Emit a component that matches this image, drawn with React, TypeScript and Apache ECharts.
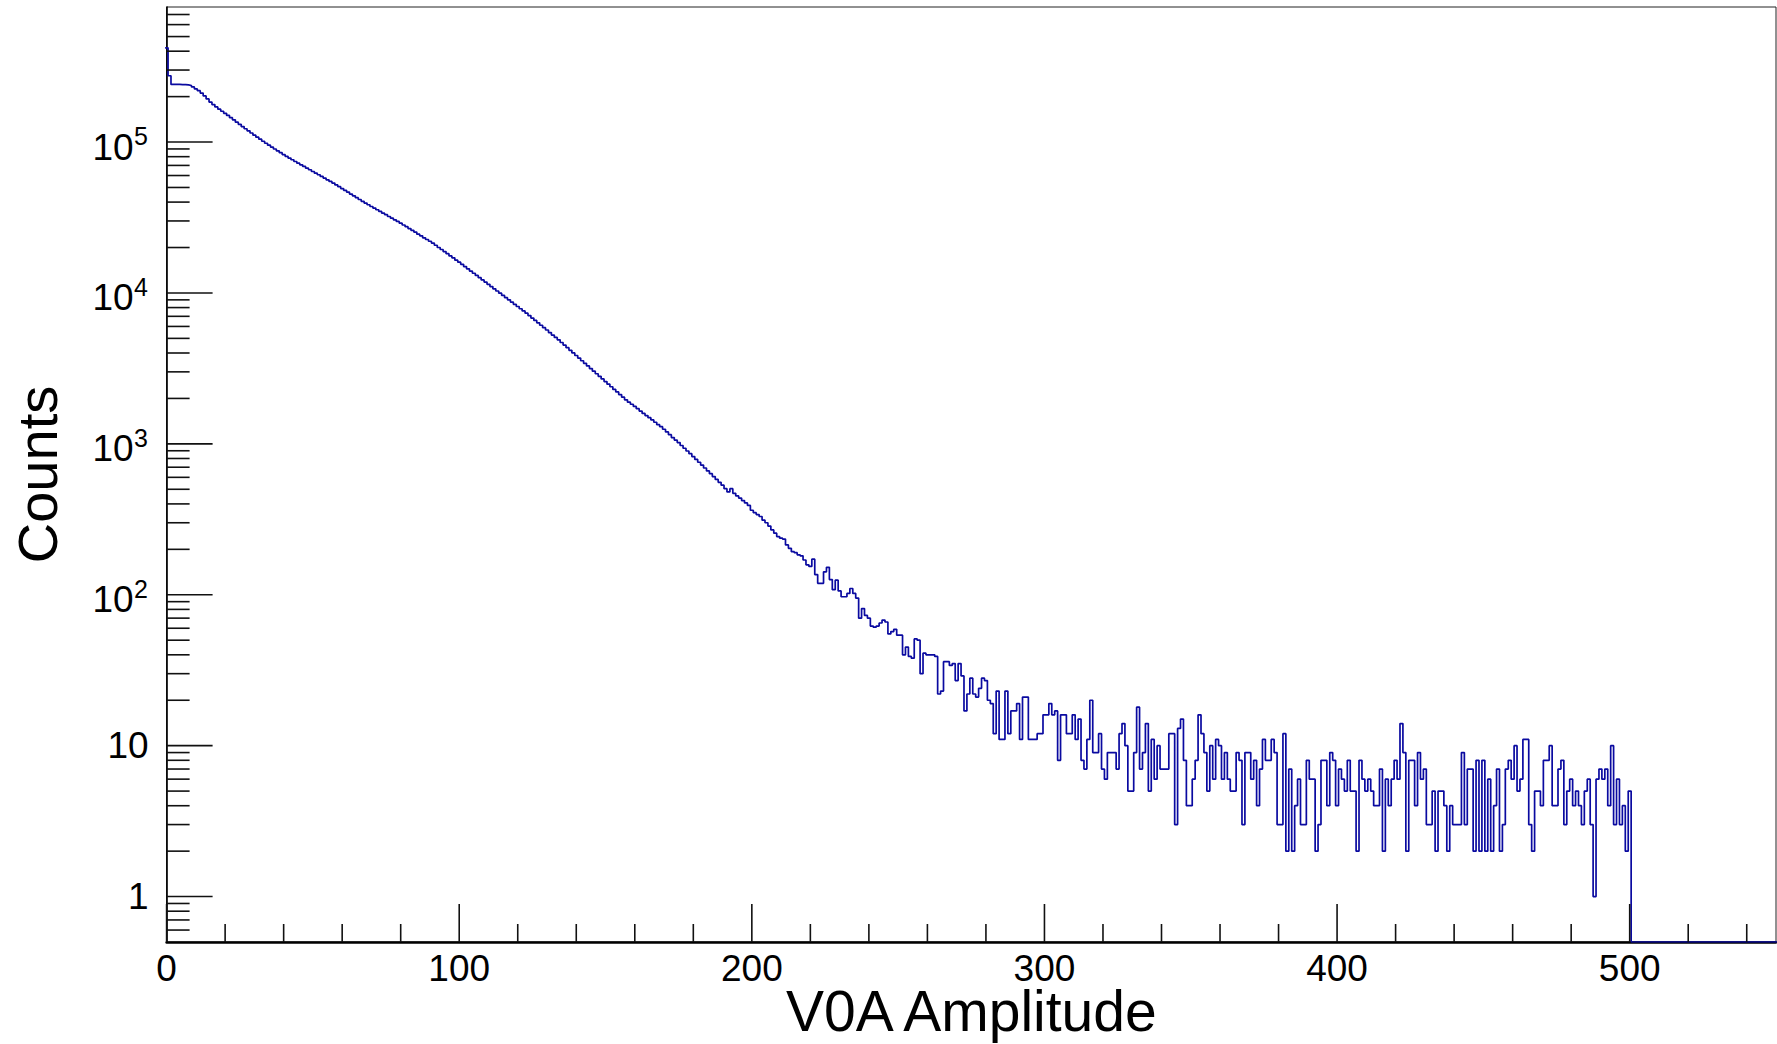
import React, { useEffect, useRef } from "react";
import * as echarts from "echarts";

// ---- histogram binning ----
const FIRST_BIN_CENTER = 0;
const BIN_WIDTH = 1;

// ---- bin contents (counts) ----
const countsA = [
  421000, 275000, 241000, 241000, 241000, 240000, 240000, 239000, 237000, 232000,
  225000, 219000, 211000, 202000, 193000, 184000, 177000, 171000, 165000, 160000,
  155000, 150000, 145000, 140300, 135500, 131000, 126600, 122500, 118600, 114800,
  111100, 107700, 104400, 101200, 98200, 95300, 92600, 89900, 87400, 85000,
  82600, 80400, 78300, 76300, 74300, 72400, 70600, 68900, 67100, 65500,
  63800, 62200, 60700, 59200, 57700, 56200, 54800, 53500, 52000, 50600,
  49200, 47900, 46600, 45200, 44000, 42800, 41600, 40500, 39400, 38400,
  37400, 36500, 35600, 34700, 33800, 33000, 32100, 31300, 30500, 29800,
  29000, 28200, 27500, 26700, 26000, 25300, 24500, 23900, 23200, 22600,
  22000, 21400, 20700, 20000, 19400, 18800, 18200, 17600, 17100, 16500,
];
const countsB = [
  16000, 15470, 14950, 14450, 13970, 13510, 13060, 12620, 12200, 11800,
  11400, 11020, 10650, 10300, 9960, 9630, 9310, 9000, 8700, 8410,
  8130, 7860, 7600, 7350, 7080, 6820, 6580, 6340, 6110, 5890,
  5680, 5460, 5260, 5070, 4890, 4696, 4512, 4337, 4169, 4006,
  3849, 3700, 3555, 3416, 3284, 3156, 3033, 2915, 2801, 2693,
  2587, 2487, 2390, 2296, 2207, 2121, 2038, 1959, 1890, 1830,
  1770, 1710, 1650, 1590, 1540, 1490, 1440, 1390, 1340, 1300,
  1250, 1200, 1150, 1100, 1060, 1020, 975, 935, 897, 861,
  824, 789, 755, 723, 692, 662, 634, 607, 581, 556,
  532, 505, 480, 505, 470, 452, 437, 421, 406, 391,
];
const countsC = [
  363, 350, 340, 330, 312, 300, 285, 269, 256, 243,
  237, 234, 214, 203, 193, 190, 184, 181, 170, 158,
  154, 172, 136, 119, 119, 142, 152, 126, 108, 125,
  106, 97, 97, 102, 110, 102, 95, 70, 81, 73,
  70, 62, 61, 62, 65, 68, 66, 55, 57, 59,
  54, 54, 40, 45, 39, 38, 51, 50, 30, 41,
  40, 40, 40, 39, 22, 23, 36, 36, 34, 35,
  27, 35, 29, 17, 22, 28, 22, 21, 24, 28,
  27, 20, 19, 12, 23, 11, 11, 23, 12, 17,
  17, 19, 11, 21, 21, 11, 11, 11, 12, 12,
];
const countsD = [
  16, 16, 19, 16, 17, 8, 16, 16, 12, 12,
  16, 11, 15, 8, 7, 11, 20, 9, 9, 12,
  7, 6, 9, 9, 9, 7, 12, 14, 10, 5,
  5, 9, 18, 7, 9, 14, 5, 11, 6, 10,
  7, 7, 7, 12, 12, 3, 13, 15, 8, 4,
  4, 6, 8, 16, 12, 9, 5, 10, 6, 11,
  10, 6, 9, 6, 5, 5, 9, 8, 3, 9,
  9, 6, 8, 4, 7, 11, 8, 8, 11, 9,
  3, 3, 12, 2, 7, 2, 4, 6, 3, 3,
  8, 6, 6, 2, 3, 8, 8, 4, 9, 8,
];
const countsE = [
  4, 7, 6, 5, 8, 5, 5, 2, 8, 6,
  5, 6, 5, 4, 4, 7, 2, 6, 4, 6,
  8, 6, 14, 9, 2, 8, 8, 4, 9, 6,
  7, 3, 3, 5, 2, 5, 5, 4, 2, 4,
  3, 3, 3, 9, 3, 7, 7, 2, 8, 2,
  8, 2, 6, 2, 4, 7, 2, 3, 7, 8,
  6, 10, 5, 6, 11, 11, 3, 2, 5, 5,
  4, 8, 8, 10, 4, 4, 7, 8, 3, 5,
  6, 4, 5, 4, 3, 5, 6, 3, 1, 6,
  7, 6, 7, 4, 10, 3, 6, 3, 4, 2,
  5,
];
const countsEmpty = [
  0, 0, 0, 0, 0, 0, 0, 0, 0, 0,
  0, 0, 0, 0, 0, 0, 0, 0, 0, 0,
  0, 0, 0, 0, 0, 0, 0, 0, 0, 0,
  0, 0, 0, 0, 0, 0, 0, 0, 0, 0,
  0, 0, 0, 0, 0, 0, 0, 0, 0, 0,
];

// ---- axes ----
const X_MIN = 0;
const X_MAX = 550;
const X_MAJOR_STEP = 100;
const X_MINOR_STEP = 20;
const Y_MIN = 0.5;
const Y_MAX = 785000;
const Y_DECADES = [1, 10, 100, 1000, 10000, 100000];
const Y_MINOR_MULTIPLIERS = [2, 3, 4, 5, 6, 7, 8, 9];
const X_TITLE = "V0A Amplitude";
const Y_TITLE = "Counts";

const FONT = '"Liberation Sans", Arial, Helvetica, sans-serif';
const LINE_COLOR = "#0a0aa0";

function buildOutline(counts: number[]): number[][] {
  const pts: number[][] = [];
  counts.forEach((c, i) => {
    const center = FIRST_BIN_CENTER + i * BIN_WIDTH;
    const v = c > 0 ? c : Y_MIN;
    pts.push([center - BIN_WIDTH / 2, v], [center + BIN_WIDTH / 2, v]);
  });
  return pts;
}

export default function App() {
  const ref = useRef<HTMLDivElement>(null);

  useEffect(() => {
    if (!ref.current) return;
    const chart = echarts.init(ref.current, undefined, { renderer: "svg" });

    const counts = [...countsA, ...countsB, ...countsC, ...countsD, ...countsE, ...countsEmpty];
    const outline = buildOutline(counts);

    const yTickData: number[][] = [];
    Y_DECADES.forEach((d) => yTickData.push([X_MIN, d, 1]));
    [0.1, ...Y_DECADES].forEach((d) =>
      Y_MINOR_MULTIPLIERS.forEach((m) => {
        const v = m * d;
        if (v > Y_MIN * 1.0001 && v < Y_MAX) yTickData.push([X_MIN, v, 0]);
      })
    );
    const xTickData: number[][] = [];
    for (let v = X_MIN; v < X_MAX; v += X_MINOR_STEP) {
      xTickData.push([v, Y_MIN, v % X_MAJOR_STEP === 0 ? 1 : 0]);
    }
    const yLabelData = Y_DECADES.map((d) => [X_MIN, d]);

    const option: any = {
      animation: false,
      backgroundColor: "#ffffff",
      grid: {
        left: 166.6,
        right: 1,
        top: 7,
        bottom: 102,
        show: true,
        borderColor: "#222",
        borderWidth: 1,
        backgroundColor: "transparent",
        containLabel: false,
        outerBoundsMode: "none",
      },
      xAxis: {
        type: "value",
        min: X_MIN,
        max: X_MAX,
        interval: X_MAJOR_STEP,
        axisLine: { show: true, onZero: false, lineStyle: { color: "#000", width: 2.5 } },
        axisTick: { show: false },
        splitLine: { show: false },
        axisLabel: {
          show: true,
          color: "#000",
          fontSize: 37,
          lineHeight: 30,
          fontFamily: FONT,
          margin: 11.5,
          showMaxLabel: false,
          formatter: (v: number) => (v % X_MAJOR_STEP === 0 ? String(v) : ""),
        },
        name: X_TITLE,
        nameLocation: "middle",
        nameGap: 45.5,
        nameMoveOverlap: false,
        nameTextStyle: { color: "#000", fontSize: 57, lineHeight: 46, fontFamily: FONT },
      },
      yAxis: {
        type: "log",
        logBase: 10,
        min: Y_MIN,
        max: Y_MAX,
        axisLine: { show: true, onZero: false, lineStyle: { color: "#000", width: 1.6 } },
        axisTick: { show: false },
        axisLabel: { show: false },
        splitLine: { show: false },
        minorSplitLine: { show: false },
        name: Y_TITLE,
        nameLocation: "middle",
        nameGap: 101,
        nameRotate: 90,
        nameMoveOverlap: false,
        nameTextStyle: { color: "#000", fontSize: 56, fontFamily: FONT },
      },
      series: [
        {
          type: "line",
          name: "V0A",
          data: outline,
          showSymbol: false,
          symbol: "none",
          clip: true,
          silent: true,
          z: 3,
          lineStyle: { color: LINE_COLOR, width: 1.7 },
        },
        {
          type: "custom",
          name: "yTicks",
          silent: true,
          clip: false,
          z: 4,
          data: yTickData,
          renderItem: (_p: any, api: any) => {
            const v = api.value(1);
            const major = api.value(2) === 1;
            const p = api.coord([X_MIN, v]);
            const len = major ? 46 : 23;
            return {
              type: "line",
              shape: { x1: p[0], y1: p[1], x2: p[0] + len, y2: p[1] },
              style: { stroke: "#111", lineWidth: 1.6 },
            };
          },
        },
        {
          type: "custom",
          name: "xTicks",
          silent: true,
          clip: false,
          z: 4,
          data: xTickData,
          renderItem: (_p: any, api: any) => {
            const v = api.value(0);
            const major = api.value(2) === 1;
            const p = api.coord([v, Y_MIN]);
            const len = major ? 38 : 18;
            return {
              type: "line",
              shape: { x1: p[0], y1: p[1], x2: p[0], y2: p[1] - len },
              style: { stroke: "#111", lineWidth: 1.6 },
            };
          },
        },
        {
          type: "custom",
          name: "yLabels",
          silent: true,
          clip: false,
          z: 4,
          data: yLabelData,
          renderItem: (_p: any, api: any) => {
            const v = api.value(1);
            const p = api.coord([X_MIN, v]);
            const e = Math.round(Math.log10(v));
            if (e <= 1) {
              return {
                type: "text",
                style: {
                  text: String(Math.round(v)),
                  x: p[0] - 18,
                  y: p[1],
                  fill: "#000",
                  fontSize: 37,
                  fontFamily: FONT,
                  align: "right",
                  verticalAlign: "middle",
                },
              };
            }
            return {
              type: "group",
              children: [
                {
                  type: "text",
                  style: {
                    text: "10",
                    x: p[0] - 33,
                    y: p[1] + 5,
                    fill: "#000",
                    fontSize: 37,
                    fontFamily: FONT,
                    align: "right",
                    verticalAlign: "middle",
                  },
                },
                {
                  type: "text",
                  style: {
                    text: String(e),
                    x: p[0] - 32.5,
                    y: p[1] - 6,
                    fill: "#000",
                    fontSize: 25,
                    fontFamily: FONT,
                    align: "left",
                    verticalAlign: "middle",
                  },
                },
              ],
            };
          },
        },
      ],
    };

    chart.setOption(option);
    return () => chart.dispose();
  }, []);

  return (
    <div
      ref={ref}
      style={{ position: "absolute", left: 0, top: 0, width: 1777, height: 1044, background: "#fff" }}
    />
  );
}
